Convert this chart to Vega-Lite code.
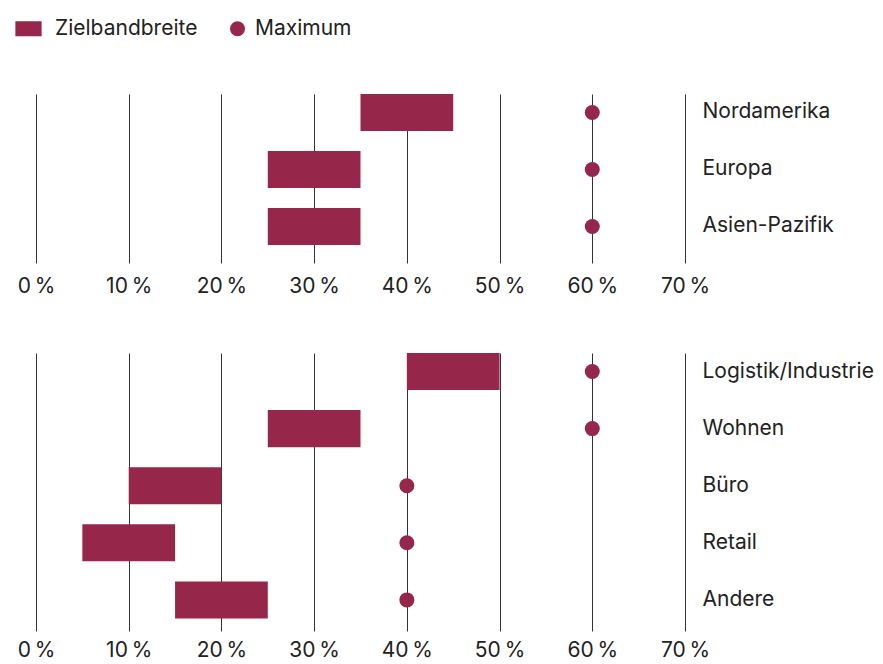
{
  "$schema": "https://vega.github.io/schema/vega-lite/v6.json",
  "padding": {"left": 17, "top": 18, "right": 0, "bottom": 0},
  "config": {
    "font": "Inter",
    "view": {"stroke": null},
    "axisX": {
      "labelPadding": 12,
      "labelFlush": false,
      "ticks": false,
      "domain": false,
      "grid": true,
      "gridColor": "#333333",
      "gridWidth": 1,
      "labelFontSize": 21,
      "labelColor": "#222222",
      "title": null
    },
    "axisY": {
      "orient": "right",
      "labelPadding": 17,
      "ticks": false,
      "domain": false,
      "grid": false,
      "labelFontSize": 21,
      "labelColor": "#222222",
      "labelAlign": "left",
      "title": null
    }
  },
  "datasets": {
    "regionen": [
      {"name": "Nordamerika", "von": 35, "bis": 45, "max": 60},
      {"name": "Europa", "von": 25, "bis": 35, "max": 60},
      {"name": "Asien-Pazifik", "von": 25, "bis": 35, "max": 60}
    ],
    "sektoren": [
      {"name": "Logistik/Industrie", "von": 40, "bis": 50, "max": 60},
      {"name": "Wohnen", "von": 25, "bis": 35, "max": 60},
      {"name": "Büro", "von": 10, "bis": 20, "max": 40},
      {"name": "Retail", "von": 5, "bis": 15, "max": 40},
      {"name": "Andere", "von": 15, "bis": 25, "max": 40}
    ]
  },
  "vconcat": [
    {
      "width": 649,
      "height": 169,
      "data": {"name": "regionen"},
      "encoding": {
        "y": {"field": "name", "type": "nominal", "sort": null, "scale": {"paddingInner": 0.351, "paddingOuter": 0.158, "align": 0}}
      },
      "layer": [
        {
          "mark": {"type": "bar"},
          "encoding": {
            "x": {"field": "von", "type": "quantitative", "scale": {"domain": [0, 70], "nice": false},
              "axis": {"values": [0, 10, 20, 30, 40, 50, 60, 70], "labelExpr": "datum.value + '\u2009%'"}},
            "x2": {"field": "bis"},
            "color": {"datum": "Zielbandbreite", "type": "nominal",
              "scale": {"domain": ["Zielbandbreite", "Maximum"], "range": ["#96264A", "#96264A"]},
              "legend": {
                "title": null, "orient": "none", "legendX": -18, "legendY": -76, "direction": "horizontal",
                "labelFontSize": 21, "labelColor": "#222222", "symbolSize": 225, "symbolOpacity": 1,
                "columnPadding": 29, "labelOffset": 7,
                "encode": {
                  "symbols": {"update": {
                    "shape": {"signal": "datum.value === 'Maximum' ? 'circle' : 'M-1.75,-1H1.75V1H-1.75Z'"},
                    "fill": {"value": "#96264A"}, "strokeWidth": {"value": 0}, "opacity": {"value": 1}}},
                  "labels": {"update": {"dx": {"signal": "datum.value === 'Maximum' ? 0 : 9"}}}
                }
              }}
          }
        },
        {
          "mark": {"type": "point", "filled": true, "opacity": 1, "size": 225},
          "encoding": {
            "x": {"field": "max", "type": "quantitative"},
            "color": {"datum": "Maximum", "type": "nominal"}
          }
        }
      ]
    },
    {
      "width": 649,
      "height": 278,
      "data": {"name": "sektoren"},
      "encoding": {
        "y": {"field": "name", "type": "nominal", "sort": null, "scale": {"paddingInner": 0.351, "paddingOuter": 0.11, "align": 0}}
      },
      "layer": [
        {
          "mark": {"type": "bar"},
          "encoding": {
            "x": {"field": "von", "type": "quantitative", "scale": {"domain": [0, 70], "nice": false},
              "axis": {"values": [0, 10, 20, 30, 40, 50, 60, 70], "labelExpr": "datum.value + '\u2009%'", "labelPadding": 8}},
            "x2": {"field": "bis"},
            "color": {"datum": "Zielbandbreite", "type": "nominal"}
          }
        },
        {
          "mark": {"type": "point", "filled": true, "opacity": 1, "size": 225},
          "encoding": {
            "x": {"field": "max", "type": "quantitative"},
            "color": {"datum": "Maximum", "type": "nominal"}
          }
        }
      ]
    }
  ],
  "spacing": 57,
  "resolve": {"scale": {"y": "independent", "x": "independent", "color": "shared"}}
}
